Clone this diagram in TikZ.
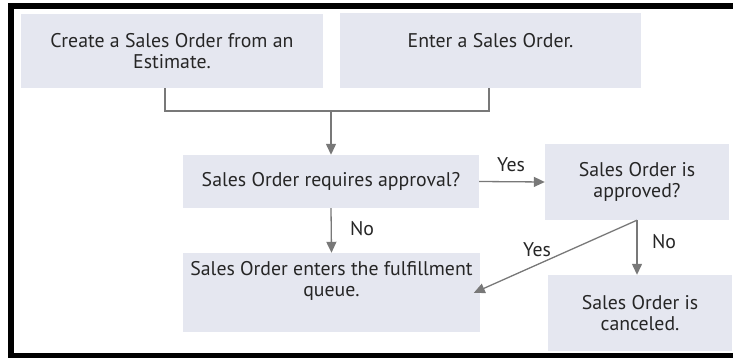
\documentclass[tikz,border=0pt]{standalone}
\usepackage{fontspec}
\setmainfont{PT Sans}
\usetikzlibrary{arrows.meta}
\definecolor{boxfill}{HTML}{E5E7F0}
\definecolor{txt}{HTML}{262626}
\definecolor{conn}{HTML}{787878}
\tikzset{
  stepbox/.style={fill=boxfill, draw=none, inner sep=0pt, align=center, text=txt,
    font=\fontsize{19.8}{21}\selectfont},
  conline/.style={draw=conn, line width=1.3pt},
  conarrow/.style={conline, -{Triangle[length=11pt,width=10pt]}},
  lbl/.style={text=txt, font=\fontsize{19.8}{21}\selectfont, inner sep=0pt}
}
\begin{document}
\begin{tikzpicture}[x=1pt,y=-1pt]
\useasboundingbox (0,0) rectangle (733,358);
% frame
\draw[line width=6pt, black] (733,6) -- (10.5,6) -- (10.5,355.5) -- (733,355.5);
% boxes
\node[stepbox, minimum width=302pt, minimum height=74pt] (b1) at (172,51)
  {Create a Sales Order from an\\Estimate.};
\node[stepbox, minimum width=301pt, minimum height=75pt] (b2) at (490.5,50.5)
  {Enter a Sales Order.\\\mbox{}};
\node[stepbox, minimum width=296pt, minimum height=53pt] (b3) at (331,181.5)
  {Sales Order requires approval?};
\node[stepbox, minimum width=297pt, minimum height=79pt] (b4) at (331.5,292.5)
  {Sales Order enters the fulfillment\\queue.\\[6pt]};
\node[stepbox, minimum width=184pt, minimum height=76pt] (b5) at (637,182)
  {Sales Order is\\approved?};
\node[stepbox, minimum width=184pt, minimum height=76pt] (b6) at (640,313)
  {Sales Order is\\canceled.};
% merge connector
\coordinate (m1) at (165,111);
\coordinate (m2) at (489,111);
\coordinate (j) at (331,111);
\draw[conline] (b1.south -| m1) -- (m1) -- (m2) -- (b2.south -| m2);
\draw[conarrow] (j) -- (b3.north);
% decisions
\draw[conarrow] (b3.east) -- (b5.west);
\node[lbl] (ly1) at (511,165) {Yes};
\draw[conarrow] (b3.south) -- (b4.north);
\node[lbl] (ln1) at (362,229) {No};
\draw[conarrow] (b5.south) -- (b5.south |- b6.north);
\node[lbl] (ln2) at (664,242) {No};
\draw[conarrow, shorten >=-7pt] (b5.south) -- ([yshift=2.5pt]b4.east);
\node[lbl] (ly2) at (537,250) {Yes};
\end{tikzpicture}
\end{document}
